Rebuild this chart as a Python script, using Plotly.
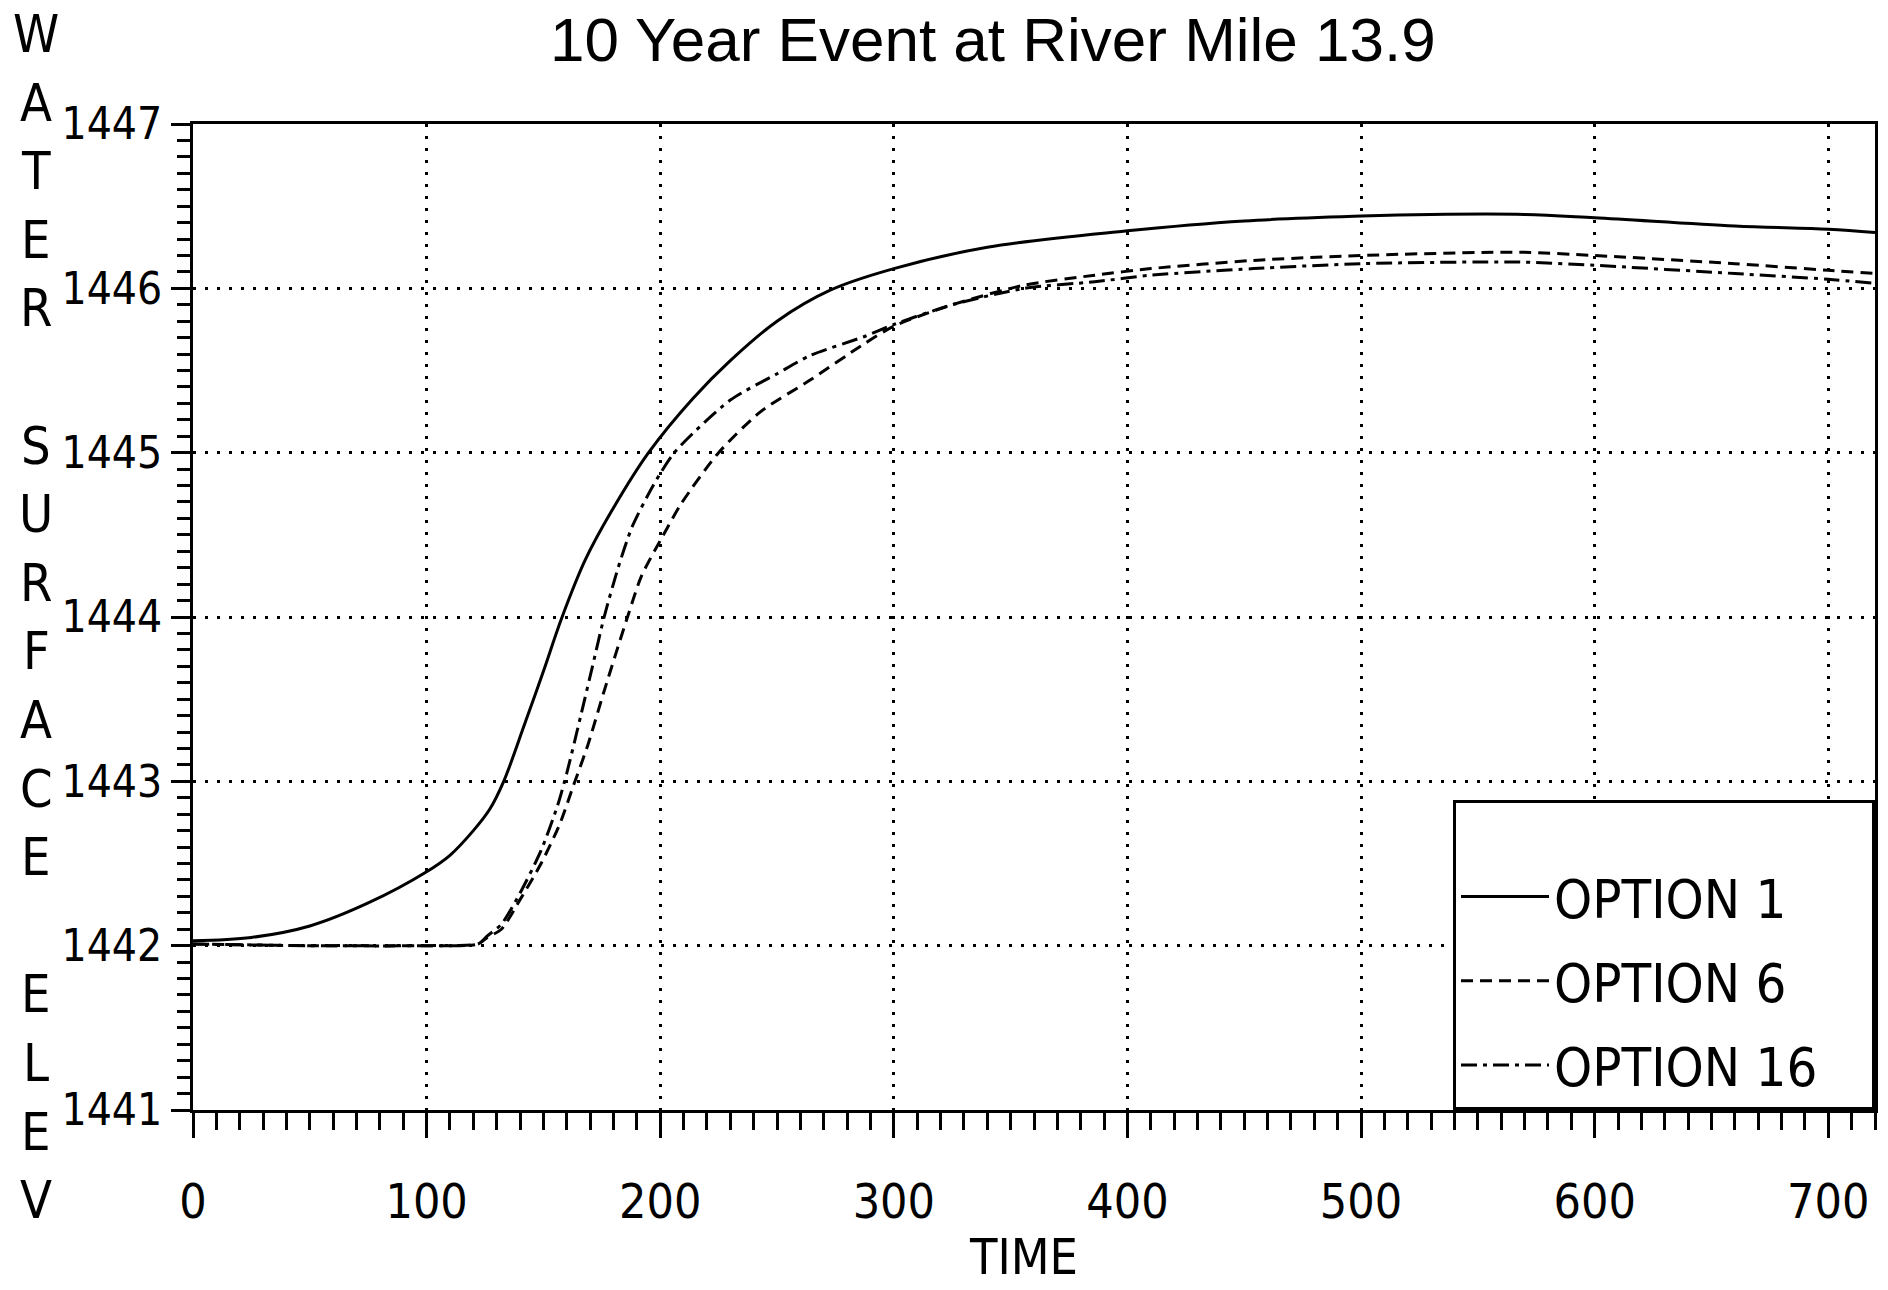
import plotly.graph_objects as go

# ---- data ----
time_opt1 = [0, 25, 50, 75, 100, 110, 120, 127, 133, 142, 150, 158, 168, 179, 195, 214,
             230, 250, 273, 300, 340, 400, 450, 500, 530, 570, 600, 660, 700, 720]
elev_opt1 = [1442.03, 1442.05, 1442.12, 1442.26, 1442.45, 1442.55, 1442.70, 1442.83,
             1443.00, 1443.35, 1443.67, 1444.00, 1444.35, 1444.64, 1445.00, 1445.33,
             1445.56, 1445.80, 1445.99, 1446.12, 1446.25, 1446.35, 1446.41, 1446.44,
             1446.45, 1446.45, 1446.43, 1446.38, 1446.36, 1446.34]

time_opt6 = [0, 50, 100, 122, 126, 132, 140, 149, 157, 163, 169, 176, 186, 192, 201, 209,
             225, 243, 264, 286, 300, 325, 356, 386, 410, 454, 500, 568, 600, 660, 700, 720]
elev_opt6 = [1442.01, 1442.00, 1442.00, 1442.01, 1442.05, 1442.10, 1442.28, 1442.50,
             1442.74, 1442.98, 1443.22, 1443.55, 1444.00, 1444.25, 1444.49, 1444.69,
             1445.00, 1445.25, 1445.44, 1445.65, 1445.77, 1445.90, 1446.02, 1446.08,
             1446.12, 1446.17, 1446.20, 1446.22, 1446.20, 1446.15, 1446.11, 1446.09]

time_opt16 = [0, 50, 100, 122, 126, 132, 140, 149, 156, 160, 166, 171, 176, 182, 188, 197,
              206, 230, 250, 264, 288, 300, 325, 356, 386, 410, 454, 500, 568, 600, 660,
              700, 720]
elev_opt16 = [1442.01, 1442.00, 1442.00, 1442.01, 1442.06, 1442.13, 1442.32, 1442.58,
              1442.85, 1443.05, 1443.40, 1443.70, 1444.00, 1444.30, 1444.55, 1444.80,
              1445.00, 1445.32, 1445.48, 1445.59, 1445.71, 1445.78, 1445.90, 1446.00,
              1446.04, 1446.08, 1446.12, 1446.15, 1446.16, 1446.14, 1446.09, 1446.055,
              1446.03]

series_names = ["OPTION 1", "OPTION 6", "OPTION 16"]
x_tick_vals = [0, 100, 200, 300, 400, 500, 600, 700]
x_tick_text = ["0", "100", "200", "300", "400", "500", "600", "700"]
y_tick_vals = [1441, 1442, 1443, 1444, 1445, 1446, 1447]
y_tick_text = ["1441", "1442", "1443", "1444", "1445", "1446", "1447"]

title_text = "10 Year Event at River Mile 13.9"
x_title = "TIME"
y_title = "WATER SURFACE ELEV"

# ---- styling ----
NARROW = "DejaVu Sans Condensed, Liberation Sans Narrow, Liberation Sans, sans-serif"
REG = "Liberation Sans, Arial, sans-serif"
INK = "black"

# plot area in pixels
L, R, T, B = 193, 1875, 124, 1110
W, H = 1888, 1290


def px_x(px):
    return (px - L) / (R - L)


def px_y(py):
    return (B - py) / (B - T)


fig = go.Figure()
dashes = ["solid", "12px,7px", "16px,6px,4px,6px"]
smooth = [1.0, 0.7, 0.7]
for name, t, e, dash, sm in zip(series_names, [time_opt1, time_opt6, time_opt16],
                                [elev_opt1, elev_opt6, elev_opt16], dashes, smooth):
    fig.add_trace(go.Scatter(
        x=t, y=e, mode="lines", name=name, legendgroup=name,
        line=dict(color=INK, width=3, dash=dash, shape="spline", smoothing=sm),
    ))

axis_common = dict(
    showline=True, linecolor=INK, linewidth=3, mirror=True,
    ticks="outside", tickwidth=3, tickcolor=INK,
    showgrid=True, gridcolor=INK, gridwidth=3, griddash="3px,9px",
    zeroline=False,
)

fig.update_xaxes(
    range=[0, 720], tickvals=x_tick_vals, ticktext=x_tick_text,
    ticklen=25, tickfont=dict(family=NARROW, size=48, color=INK),
    ticklabelstandoff=22,
    minor=dict(dtick=10, tick0=0, ticks="outside", ticklen=17, tickwidth=3,
               tickcolor=INK, showgrid=False),
    **axis_common,
)
fig.update_yaxes(
    range=[1441, 1447], tickvals=y_tick_vals, ticktext=y_tick_text,
    ticklen=19, tickfont=dict(family=NARROW, size=44, color=INK),
    minor=dict(dtick=0.1, tick0=1441, ticks="outside", ticklen=13, tickwidth=3,
               tickcolor=INK, showgrid=False),
    **axis_common,
)

annotations = [
    dict(text=title_text, x=px_x(993), y=px_y(40), xref="paper", yref="paper",
         xanchor="center", yanchor="middle", showarrow=False,
         font=dict(family=REG, size=62, color=INK)),
    dict(text=x_title, x=px_x(1023), y=px_y(1257), xref="paper", yref="paper",
         xanchor="center", yanchor="middle", showarrow=False,
         font=dict(family=NARROW, size=50, color=INK)),
]
for i, ch in enumerate(y_title):
    if ch == " ":
        continue
    annotations.append(dict(
        text=ch, x=px_x(36), y=px_y(34 + i * 68.6), xref="paper", yref="paper",
        xanchor="center", yanchor="middle", showarrow=False,
        font=dict(family=NARROW, size=52, color=INK)))

fig.update_layout(
    width=W, height=H,
    margin=dict(l=L, r=W - R, t=T, b=H - B, autoexpand=False),
    paper_bgcolor="white", plot_bgcolor="white",
    showlegend=True,
    legend=dict(
        x=1, xanchor="right", y=0, yanchor="bottom",
        bgcolor="white", bordercolor=INK, borderwidth=3,
        font=dict(family=NARROW, size=54, color=INK),
        itemwidth=88, tracegroupgap=11,
        title=dict(text="\u00a0" * 37, font=dict(family=REG, size=40, color=INK)),
    ),
    annotations=annotations,
)

fig.write_html("out.html", config={"displayModeBar": False},
               post_script="document.body.style.margin='0';")
